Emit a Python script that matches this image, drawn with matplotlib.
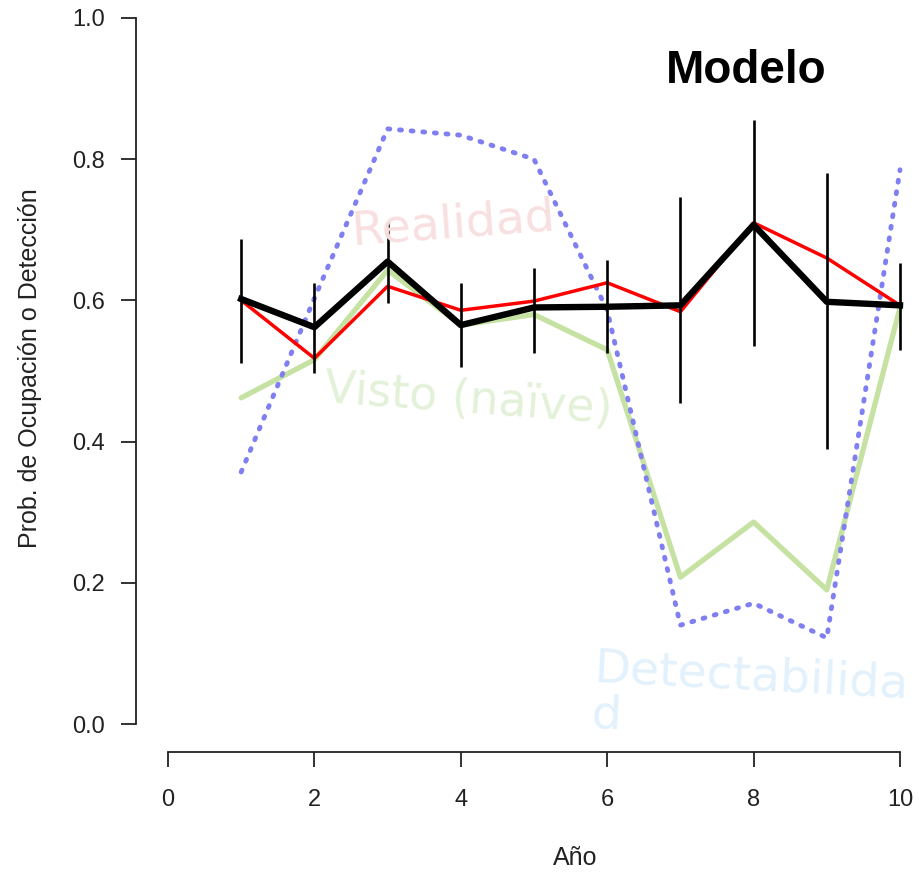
import matplotlib
matplotlib.use("Agg")
import matplotlib.pyplot as plt

# years and estimates
anios = [1, 2, 3, 4, 5, 6, 7, 8, 9, 10]
modelo = [0.602, 0.562, 0.655, 0.565, 0.590, 0.591, 0.593, 0.707, 0.598, 0.593]
modelo_inf = [0.512, 0.497, 0.597, 0.506, 0.525, 0.525, 0.455, 0.535, 0.390, 0.530]
modelo_sup = [0.687, 0.625, 0.711, 0.625, 0.646, 0.657, 0.746, 0.855, 0.780, 0.653]
realidad = [0.600, 0.518, 0.620, 0.586, 0.599, 0.625, 0.584, 0.710, 0.660, 0.593]
visto = [0.462, 0.516, 0.643, 0.565, 0.580, 0.530, 0.208, 0.286, 0.190, 0.590]
detectabilidad = [0.357, 0.603, 0.843, 0.834, 0.800, 0.586, 0.140, 0.171, 0.122, 0.785]

x_ticks = [0, 2, 4, 6, 8, 10]
y_ticks = [0.0, 0.2, 0.4, 0.6, 0.8, 1.0]

plt.rcParams['font.family'] = ['Liberation Sans', 'DejaVu Sans']

fig = plt.figure(figsize=(9.2, 8.72), dpi=100)
ax = fig.add_axes([136 / 920, 120 / 872, 784 / 920, 752 / 872])

ax.plot(anios, visto, color='#c6e2a2', lw=3.8, zorder=2, solid_capstyle='round')
ax.plot(anios, detectabilidad, color='#7f7ff2', lw=3.5, ls=(0, (0.4, 2.0)),
        dash_capstyle='round', zorder=3)
ax.plot(anios, realidad, color='#ff0000', lw=2.5, zorder=4)
ax.vlines(anios, modelo_inf, modelo_sup, color='black', lw=1.9, zorder=5)
ax.plot(anios, modelo, color='black', lw=4.6, zorder=6)

# pale annotation labels drawn on top of the lines
ax.text(3.89, 0.708, 'Realidad', family='DejaVu Sans', fontsize=34, color='#f8dfe0',
        rotation=4.2, ha='center', va='center', rotation_mode='anchor', zorder=8)
ax.text(4.10, 0.460, 'Visto (naïve)', family='DejaVu Sans', fontsize=33, color='#e3f1d9',
        rotation=-4.2, ha='center', va='center', rotation_mode='anchor', zorder=8)
ax.text(5.83, 0.110, 'Detectabilida\nd', family='DejaVu Sans', fontsize=34, color='#e2f1fc',
        rotation=-3.0, ha='left', va='top', rotation_mode='anchor', linespacing=1.05,
        zorder=8, clip_on=False)
ax.text(7.9, 0.925, 'Modelo', fontsize=33, fontweight='bold', color='black',
        ha='center', va='center', zorder=9)

ax.set_xlim((136 - 168) / 73.2, (920 - 168) / 73.2)
ax.set_ylim((724 - 752) / 706, 724 / 706)

for side in ['top', 'right']:
    ax.spines[side].set_visible(False)
ax.spines['left'].set_bounds(0, 1)
ax.spines['bottom'].set_bounds(0, 10)
for side in ['left', 'bottom']:
    ax.spines[side].set_linewidth(1.3)
    ax.spines[side].set_color('#222222')

ax.set_xticks(x_ticks)
ax.set_yticks(y_ticks)
ax.set_yticklabels(['%.1f' % v for v in y_ticks])
ax.tick_params(axis='both', direction='out', length=10.5, width=1.3, color='#222222',
               labelsize=17, labelcolor='#222222')
ax.tick_params(axis='y', pad=12)
ax.tick_params(axis='x', pad=16)

ax.set_xlabel('Año', fontsize=18, color='#222222')
ax.xaxis.set_label_coords((575 - 136) / 784, (752 - 858) / 752)
ax.xaxis.label.set_va('center')
ax.set_ylabel('Prob. de Ocupación o Detección', fontsize=18, color='#222222')
ax.yaxis.set_label_coords((30 - 136) / 784, (752 - 368) / 752)
ax.yaxis.label.set_va('center')

fig.savefig('out.png', dpi=100)
